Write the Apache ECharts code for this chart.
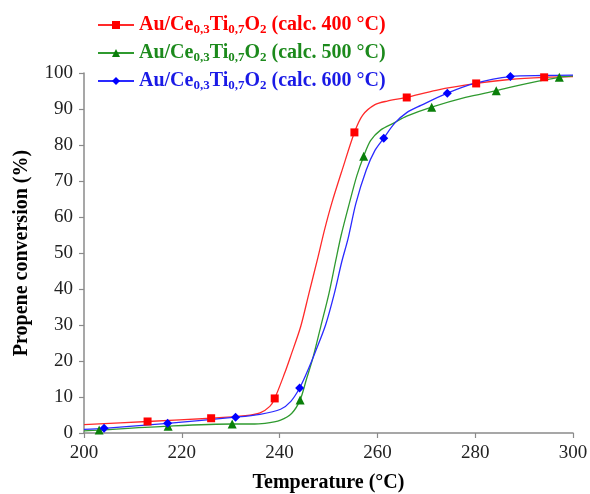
<!DOCTYPE html>
<html>
<head>
<meta charset="utf-8">
<script src="https://cdn.jsdelivr.net/npm/echarts@6/dist/echarts.min.js"></script>
<style>html,body{margin:0;padding:0;background:#fff}#c{width:590px;height:494px}</style>
</head>
<body>
<div id="c"></div>
<script>
// Series names
var names = ['Au/Ce0,3Ti0,7O2 (calc. 400 °C)', 'Au/Ce0,3Ti0,7O2 (calc. 500 °C)', 'Au/Ce0,3Ti0,7O2 (calc. 600 °C)'];
var calcLabels = [' (calc. 400 °C)', ' (calc. 500 °C)', ' (calc. 600 °C)'];

// Measured points [temperature, conversion]
var pts400 = [[213,3.2],[226,4.1],[239,9.6],[255.3,83.5],[266,93.2],[280.2,97.1],[294.1,98.8]];
var pts500 = [[203.1,0.8],[217.2,1.9],[230.3,2.5],[244.2,9.2],[257.2,76.9],[271.1,90.5],[284.3,95.1],[297.2,98.8]];
var pts600 = [[204.1,1.3],[217.1,2.7],[231,4.4],[244.1,12.5],[261.3,81.9],[274.3,94.4],[287.2,99.0]];

// Fitted curves
var curve400 = [[200,2.3],[213,3.2],[226,4.1],[233,4.8],[236,5.6],[238,7.4],[239,9.6],[241,16.5],[242.3,21.5],[244.3,29.5],[246,38.8],[247.7,48],[249.2,56.5],[250.7,64],[252.9,73.5],[255.3,83.5],[257,88.3],[259.5,91.2],[262,92.2],[266,93.2],[272,95.2],[280.2,97.1],[287,98.2],[294.1,98.8],[300,99.0]];
var curve500 = [[200,0.6],[203.1,0.8],[217.2,1.9],[230.3,2.5],[234,2.5],[237,2.7],[240.2,3.6],[242.5,5.5],[244.2,9.2],[245.5,15],[246.7,20.3],[248.4,29.5],[250.1,38.8],[251.5,48],[252.6,55],[254.3,64],[255.8,71.5],[257.2,76.9],[258.6,81.2],[260.7,84.2],[263.5,86.2],[266,88],[271.1,90.5],[278,93.2],[284.3,95.1],[291,97.2],[297.2,98.8],[300,99.2]];
var curve600 = [[200,1.0],[204.1,1.3],[217.1,2.7],[231,4.4],[236,5.2],[240.2,6.6],[242.3,8.8],[244.1,12.5],[245.8,17.5],[247.3,22.5],[249.4,30],[251.2,38.8],[252.7,47.5],[254,54],[255.6,63.8],[257.7,73],[259.5,78.5],[261.3,81.9],[263.5,86],[266,89],[268.9,91],[274.3,94.4],[279.9,97.1],[287.2,99.0],[294,99.3],[300,99.4]];

// Axis ticks
var xMin = 200, xMax = 300, xStep = 20;
var yMin = 0, yMax = 100, yStep = 10;

var lineColors = ['#ff2a2a', '#2f9a2f', '#2a2aff'];
var markColors = ['#ff0000', '#0a7f0a', '#0000ff'];
var textColors = ['#ff0000', '#1c8a1c', '#1a1ae6'];
var symbols = ['rect', 'triangle', 'diamond'];
var symSizes = [8, 9, 9];
var curves = [curve400, curve500, curve600];
var points = [pts400, pts500, pts600];

var serif = '"Liberation Serif", "Times New Roman", serif';

var series = [];
for (var i = 0; i < 3; i++) {
  series.push({
    name: names[i], type: 'line', data: curves[i], smooth: 0.3,
    showSymbol: false, symbol: symbols[i], symbolSize: symSizes[i],
    lineStyle: {color: lineColors[i], width: 1.3},
    itemStyle: {color: markColors[i]},
    z: 2, silent: true
  });
}
for (var j = 0; j < 3; j++) {
  series.push({
    name: names[j] + ' pts', type: 'scatter', data: points[j],
    symbol: symbols[j], symbolSize: symSizes[j],
    itemStyle: {color: markColors[j], opacity: 1},
    z: 3, silent: true
  });
}

var legendData = names.map(function (n, k) {
  return {name: n, textStyle: {color: textColors[k]}};
});

var chart = echarts.init(document.getElementById('c'), null, {renderer: 'canvas'});
chart.setOption({
  animation: false,
  backgroundColor: '#fff',
  grid: {left: 84, right: 17, top: 73, bottom: 61, containLabel: false, outerBoundsMode: 'none'},
  legend: {
    data: legendData, orient: 'vertical', left: 92, top: 10,
    itemWidth: 36, itemHeight: 10, itemGap: 7, selectedMode: false,
    formatter: function (n) {
      var k = names.indexOf(n);
      return '{m|Au/Ce}{s|0,3}{m|Ti}{s|0,7}{m|O}{s|2}{m|' + calcLabels[k] + '}';
    },
    textStyle: {
      fontFamily: serif, fontWeight: 'bold', fontSize: 20,
      rich: {
        m: {fontFamily: serif, fontWeight: 'bold', fontSize: 20, lineHeight: 22},
        s: {fontFamily: serif, fontWeight: 'bold', fontSize: 13, lineHeight: 10, verticalAlign: 'bottom'}
      }
    }
  },
  xAxis: {
    type: 'value', min: xMin, max: xMax, interval: xStep,
    name: 'Temperature (°C)', nameLocation: 'middle', nameGap: 40,
    nameTextStyle: {fontFamily: serif, fontWeight: 'bold', fontSize: 20, color: '#000'},
    axisLine: {lineStyle: {color: '#8a8a8a', width: 1.5}},
    axisTick: {show: true, inside: false, length: 5, lineStyle: {color: '#8a8a8a', width: 1.2}},
    axisLabel: {fontFamily: serif, fontSize: 19, color: '#222', margin: 11},
    splitLine: {show: false}
  },
  yAxis: {
    type: 'value', min: yMin, max: yMax, interval: yStep,
    name: 'Propene conversion (%)', nameLocation: 'middle', nameGap: 52, nameRotate: 90,
    nameTextStyle: {fontFamily: serif, fontWeight: 'bold', fontSize: 20, color: '#000'},
    axisLine: {show: true, lineStyle: {color: '#8a8a8a', width: 1.5}},
    axisTick: {show: true, inside: false, length: 5, lineStyle: {color: '#8a8a8a', width: 1.2}},
    axisLabel: {fontFamily: serif, fontSize: 19, color: '#222', margin: 11},
    splitLine: {show: false}
  },
  series: series
});
</script>
</body>
</html>
